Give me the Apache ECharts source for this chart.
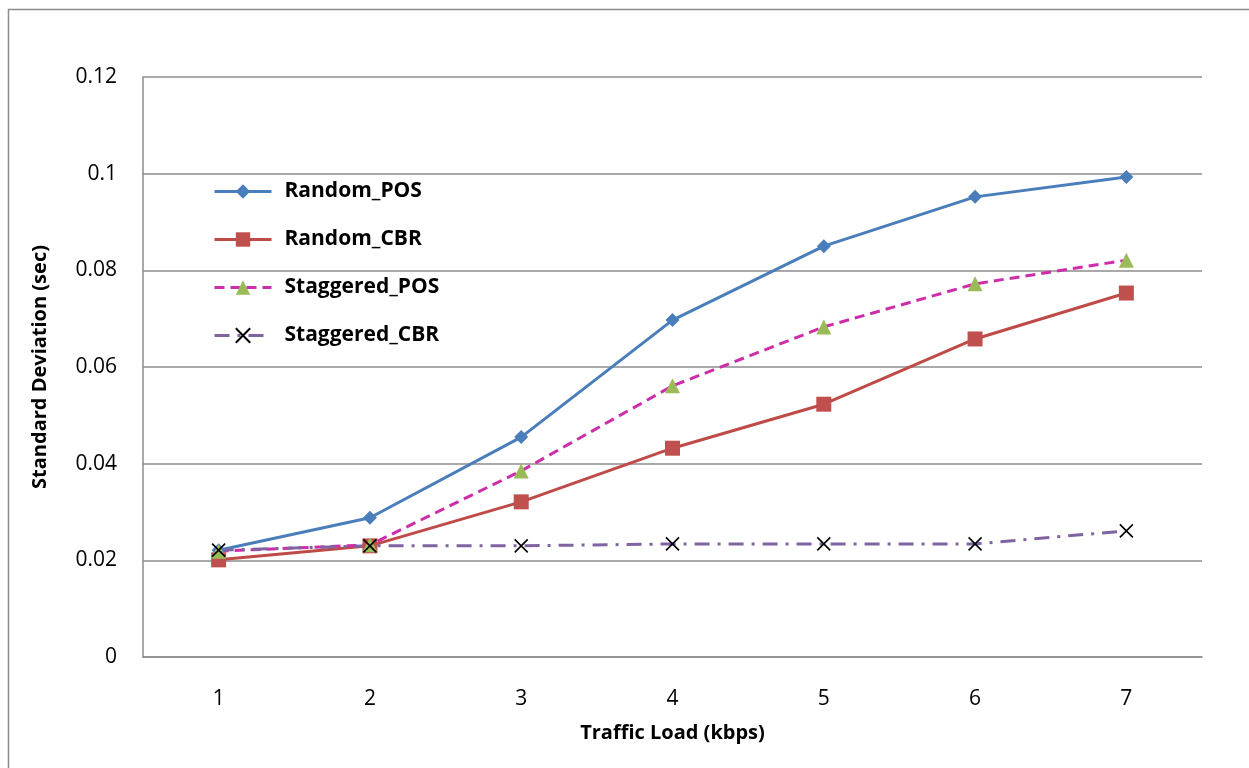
<!DOCTYPE html>
<html>
<head>
<meta charset="utf-8">
<script src="https://cdn.jsdelivr.net/npm/echarts@6/dist/echarts.min.js"></script>
<style>
  html, body { margin: 0; padding: 0; background: #fff; }
  #chart { width: 1249px; height: 768px; }
</style>
</head>
<body>
<div id="chart"></div>
<script>
// Traffic load categories (kbps)
const loads = ['1', '2', '3', '4', '5', '6', '7'];

// Standard deviation of delay (sec) per scheme
const randomPOS = [0.0221, 0.0288, 0.0455, 0.0697, 0.0850, 0.0952, 0.0993];
const randomCBR = [0.0201, 0.0230, 0.0321, 0.0432, 0.0523, 0.0658, 0.0753];
const staggeredPOS = [0.0219, 0.0232, 0.0385, 0.0561, 0.0683, 0.0772, 0.0821];
const staggeredCBR = [0.0221, 0.0230, 0.0230, 0.0234, 0.0234, 0.0234, 0.0261];

const font = '"Open Sans", Lato, "Liberation Sans", sans-serif';
const crossPath = 'path://M0,0 L10,10 M10,0 L0,10';

const chart = echarts.init(document.getElementById('chart'));
chart.setOption({
  animation: false,
  backgroundColor: '#fff',
  textStyle: { fontFamily: font },
  graphic: [{
    type: 'rect',
    shape: { x: 8.5, y: 9.5, width: 1300, height: 800 },
    style: { fill: 'none', stroke: '#8c8c8c', lineWidth: 1.5 },
    silent: true
  }],
  grid: { left: 143, top: 77, right: 47, bottom: 111 },
  legend: {
    orient: 'vertical',
    left: 208,
    top: 176,
    itemWidth: 57,
    itemHeight: 18,
    itemGap: 27,
    lineStyle: { width: 3 },
    textStyle: { fontFamily: font, fontSize: 21, fontWeight: 'bold', color: '#000', padding: [0, 0, 0, 8] },
    data: ['Random_POS', 'Random_CBR', 'Staggered_POS', 'Staggered_CBR']
  },
  xAxis: {
    type: 'category',
    data: loads,
    boundaryGap: true,
    name: 'Traffic Load (kbps)',
    nameLocation: 'middle',
    nameGap: 66,
    nameTextStyle: { fontFamily: font, fontSize: 20, fontWeight: 'bold', color: '#000' },
    axisLine: { lineStyle: { color: '#8c8c8c', width: 1.5 } },
    axisTick: { show: false },
    axisLabel: { margin: 32, fontSize: 21, color: '#000', fontFamily: font }
  },
  yAxis: {
    type: 'value',
    min: 0,
    max: 0.12,
    interval: 0.02,
    name: 'Standard Deviation (sec)',
    nameLocation: 'middle',
    nameGap: 93,
    nameTextStyle: { fontFamily: font, fontSize: 20, fontWeight: 'bold', color: '#000' },
    axisLine: { show: true, lineStyle: { color: '#8c8c8c', width: 1.5 } },
    axisTick: { show: false },
    axisLabel: { margin: 26, fontSize: 21, color: '#000', fontFamily: font,
      formatter: v => (v === 0 ? '0' : String(+v.toFixed(2))) },
    splitLine: { lineStyle: { color: '#8c8c8c', width: 1.5 } }
  },
  series: [
    {
      name: 'Random_POS', type: 'line', data: randomPOS,
      symbol: 'diamond', symbolSize: 14,
      lineStyle: { color: '#4A7EBB', width: 3 },
      itemStyle: { color: '#4A7EBB' }
    },
    {
      name: 'Random_CBR', type: 'line', data: randomCBR,
      symbol: 'rect', symbolSize: 15,
      lineStyle: { color: '#BE4B48', width: 3 },
      itemStyle: { color: '#C0504D' }
    },
    {
      name: 'Staggered_POS', type: 'line', data: staggeredPOS,
      symbol: 'triangle', symbolSize: 15,
      lineStyle: { color: '#CC2EAA', width: 3, type: [10, 6] },
      itemStyle: { color: '#9BBB59' }
    },
    {
      name: 'Staggered_CBR', type: 'line', data: staggeredCBR,
      symbol: crossPath, symbolSize: 13,
      lineStyle: { color: '#8064A2', width: 3, type: [15, 8, 3, 8] },
      itemStyle: { color: 'none', borderColor: '#000', borderWidth: 1.6 }
    }
  ]
});
</script>
</body>
</html>
